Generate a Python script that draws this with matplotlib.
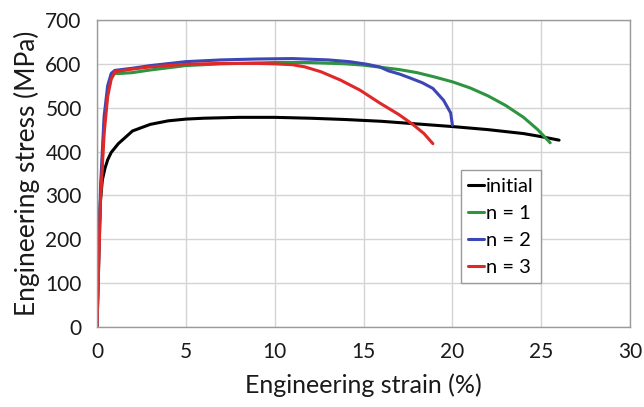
import matplotlib
matplotlib.use('Agg')
import matplotlib.pyplot as plt

# engineering stress-strain curves
initial_strain = [0, 0.1, 0.2, 0.3, 0.45, 0.6, 0.8, 1.2, 2, 3, 4, 5, 6, 8, 10, 12, 14, 16, 18, 20, 22, 24, 25, 26]
initial_stress = [0, 200, 290, 335, 362, 381, 398, 418, 447, 462, 470, 474, 476, 478, 478, 476, 473, 469, 463, 457, 450, 441, 434, 426]

n1_strain = [0, 0.2, 0.4, 0.6, 0.8, 1.0, 1.3, 2, 3, 5, 7, 10, 12, 14, 15, 16, 17, 18, 19, 20, 21, 22, 23, 24, 24.8, 25.5]
n1_stress = [0, 300, 460, 535, 568, 578, 578, 580, 586, 596, 600, 603, 603, 600, 597, 592, 587, 580, 570, 559, 545, 527, 505, 478, 450, 420]

n2_strain = [0, 0.2, 0.4, 0.6, 0.8, 1.0, 2, 3, 5, 7, 9, 11, 13, 14.2, 15.2, 15.9, 16.4, 17, 17.6, 18.3, 18.9, 19.5, 19.9, 20]
n2_stress = [0, 320, 480, 550, 578, 585, 590, 596, 605, 609, 611, 612, 609, 605, 599, 593, 584, 577, 568, 557, 544, 517, 488, 460]

n3_strain = [0, 0.2, 0.4, 0.6, 0.8, 1.0, 1.5, 2, 3, 5, 7, 9, 10, 11, 11.7, 12.6, 13.7, 14.8, 15.9, 17.0, 17.8, 18.4, 18.9]
n3_stress = [0, 290, 440, 525, 565, 582, 585, 588, 593, 599, 601, 601, 600, 598, 593, 582, 563, 540, 511, 484, 461, 441, 418]

labels = ['initial', 'n = 1', 'n = 2', 'n = 3']
colors = ['black', '#2e9440', '#3c46b4', '#e02828']

plt.rcParams['font.family'] = ['Lato', 'DejaVu Sans']

dpi = 100
fig = plt.figure(figsize=(644 / dpi, 407 / dpi), dpi=dpi)
ax = fig.add_axes([0.1506, 0.1966, 0.8279, 0.7543])

curves = [(initial_strain, initial_stress), (n1_strain, n1_stress),
          (n2_strain, n2_stress), (n3_strain, n3_stress)]
for (x, y), lab, col in zip(curves, labels, colors):
    ax.plot(x, y, color=col, lw=2.2, label=lab, solid_capstyle='round')

ax.set_xlim(0, 30)
ax.set_ylim(0, 700)
ax.set_xticks(range(0, 31, 5))
ax.set_yticks(range(0, 701, 100))
ax.grid(True, color='#d4d4d4', lw=1.0)
ax.set_axisbelow(True)
ax.tick_params(length=0, labelsize=15, colors='#1a1a1a', pad=11)
for s in ax.spines.values():
    s.set_color('#9a9a9a')
    s.set_linewidth(1.0)

ax.set_xlabel('Engineering strain (%)', fontsize=18, color='#1a1a1a', labelpad=8)
ax.set_ylabel('Engineering stress (MPa)', fontsize=19, color='#1a1a1a', labelpad=4)

leg = ax.legend(loc='upper left', bbox_to_anchor=(0.683, 0.51), fontsize=14.5,
                handlelength=0.8, handletextpad=0.1, labelspacing=0.5,
                borderpad=0.35, fancybox=False, framealpha=1.0, borderaxespad=0)
leg.get_frame().set_edgecolor('#9a9a9a')
leg.get_frame().set_linewidth(1.0)

fig.savefig('out.png', dpi=dpi)
